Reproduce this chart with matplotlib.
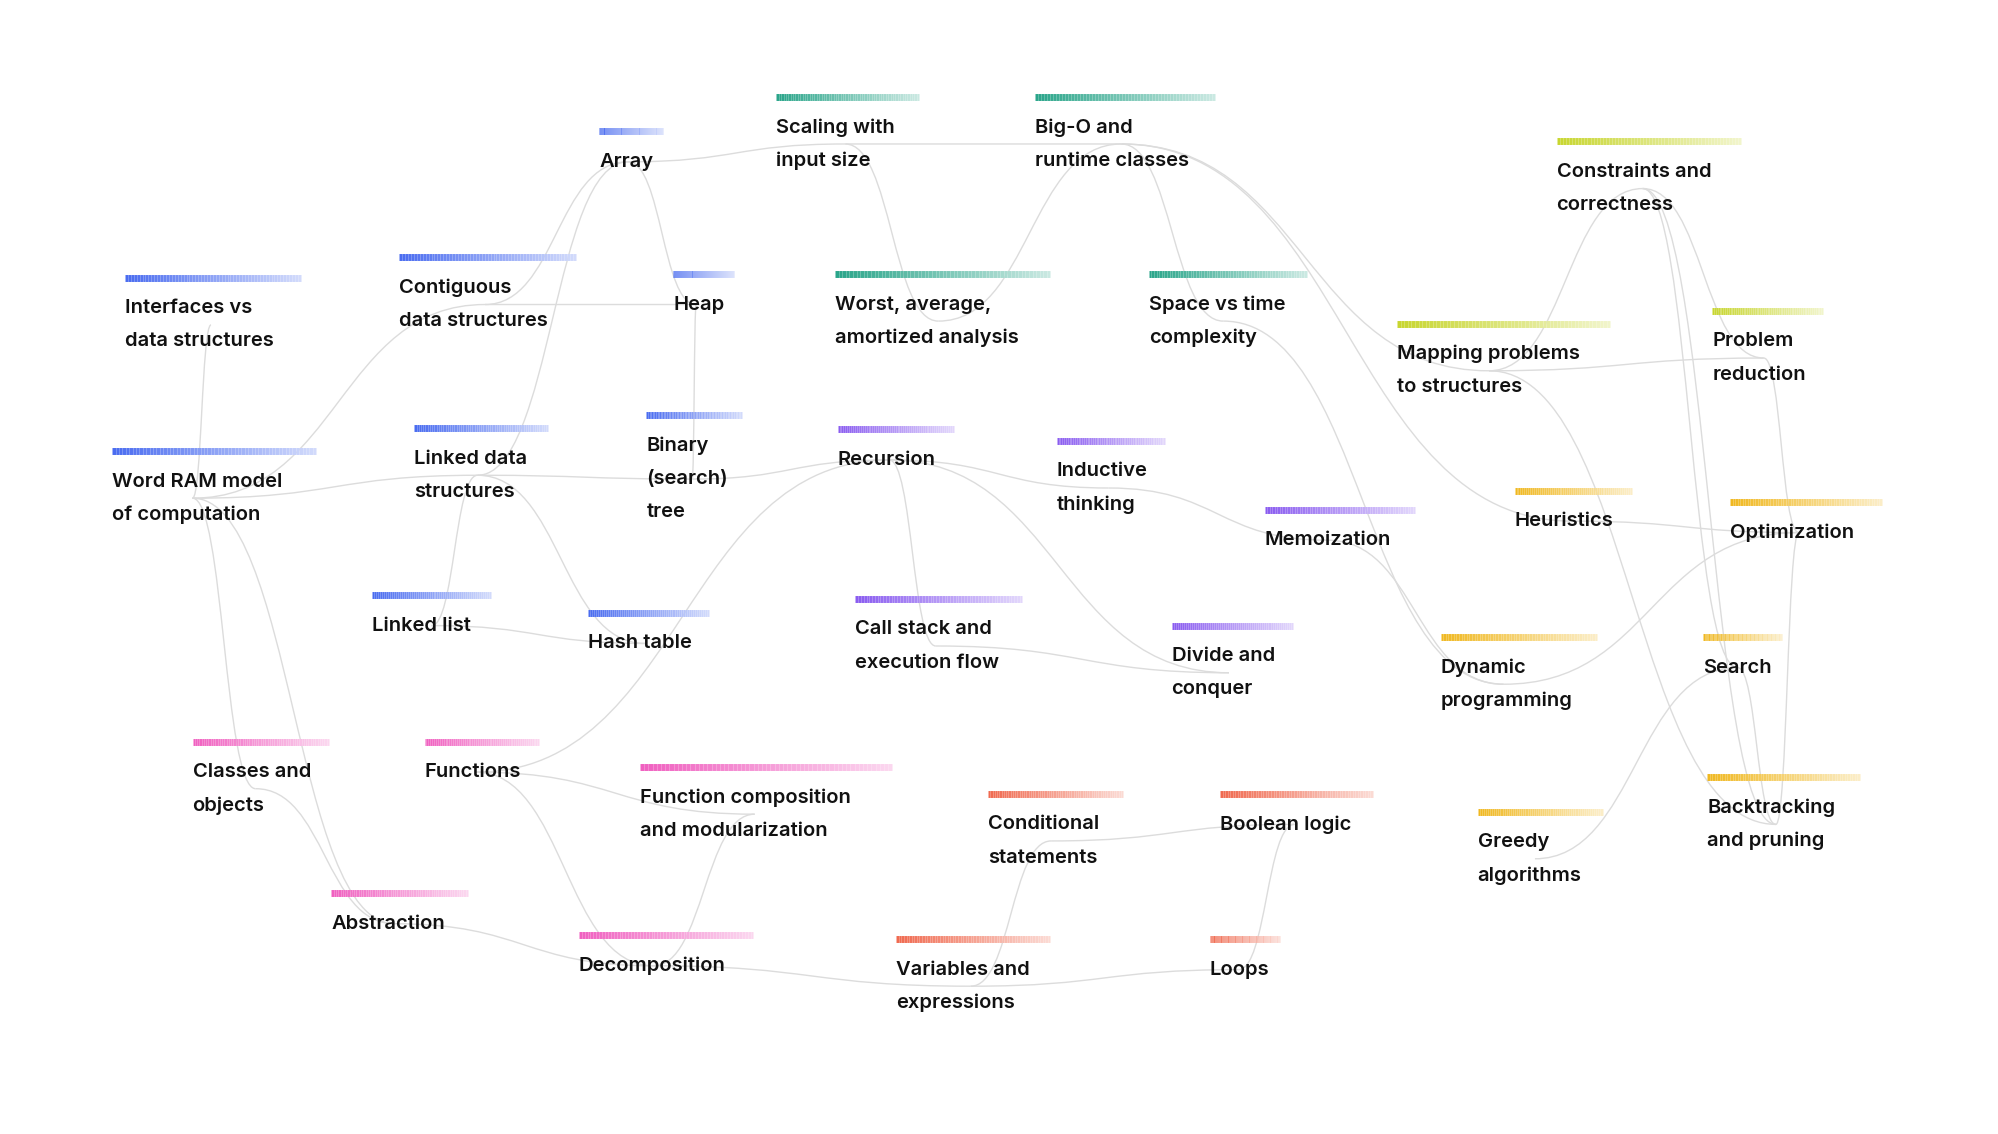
import matplotlib
matplotlib.use("Agg")
import matplotlib.pyplot as plt
import numpy as np
from matplotlib.path import Path
from matplotlib.patches import PathPatch
from matplotlib.collections import LineCollection
from matplotlib.colors import to_rgb

colors = {"blue": "#4a6cf0", "teal": "#2aa58a", "lime": "#c8d630",
          "purple": "#8a5cf0", "gold": "#f0b820", "pink": "#f060c0", "red": "#f06a50"}

# name, group, bar x0, bar x1, bar y, text lines (first line y), line spacing
node_names = ["Array", "Contiguous", "Heap", "Interfaces", "WordRAM", "LinkedDS", "BST", "LinkedList", "HashTable",
              "Scaling", "BigO", "Worst", "Space",
              "Constraints", "Mapping", "Reduction",
              "Recursion", "Inductive", "Memo", "CallStack", "Divide",
              "Heuristics", "Optimization", "DP", "Search", "Backtracking", "Greedy",
              "Classes", "Functions", "FuncComp", "Abstraction", "Decomposition",
              "Conditional", "Boolean", "Variables", "Loops"]
node_groups = ["blue"]*9 + ["teal"]*4 + ["lime"]*3 + ["purple"]*5 + ["gold"]*6 + ["pink"]*5 + ["red"]*4
node_x0 = [470, 313, 528, 98, 88, 325, 507, 292, 461,
           609, 812, 655, 901,
           1221, 1096, 1343,
           657, 829, 992, 671, 919,
           1188, 1357, 1130, 1336, 1339, 1159,
           151, 333, 502, 260, 454,
           775, 957, 703, 949]
node_x1 = [520, 452, 576, 236, 248, 430, 582, 385, 556,
           721, 953, 824, 1025,
           1366, 1263, 1430,
           748, 914, 1110, 802, 1014,
           1280, 1476, 1253, 1398, 1459, 1257,
           258, 423, 700, 367, 591,
           881, 1077, 824, 1004]
node_bary = [103, 202, 215, 218, 354, 336, 326, 467, 481,
             76, 76, 215, 215,
             111, 254, 244,
             337, 346, 400, 470, 491,
             385, 394, 500, 500, 610, 637,
             582, 582, 602, 701, 734,
             623, 623, 737, 737]
node_labels = ["Array", "Contiguous\ndata structures", "Heap", "Interfaces vs\ndata structures",
               "Word RAM model\nof computation", "Linked data\nstructures", "Binary\n(search)\ntree",
               "Linked list", "Hash table",
               "Scaling with\ninput size", "Big-O and\nruntime classes", "Worst, average,\namortized analysis",
               "Space vs time\ncomplexity",
               "Constraints and\ncorrectness", "Mapping problems\nto structures", "Problem\nreduction",
               "Recursion", "Inductive\nthinking", "Memoization", "Call stack and\nexecution flow",
               "Divide and\nconquer",
               "Heuristics", "Optimization", "Dynamic\nprogramming", "Search", "Backtracking\nand pruning",
               "Greedy\nalgorithms",
               "Classes and\nobjects", "Functions", "Function composition\nand modularization",
               "Abstraction", "Decomposition",
               "Conditional\nstatements", "Boolean logic", "Variables and\nexpressions", "Loops"]

edges = [("Array", "Contiguous"), ("Array", "Heap"), ("Array", "Scaling"), ("Array", "LinkedDS"),
         ("Scaling", "BigO"), ("Scaling", "Worst"), ("BigO", "Worst"), ("BigO", "Space"),
         ("BigO", "Mapping"), ("BigO", "Heuristics"),
         ("Interfaces", "WordRAM"), ("WordRAM", "Contiguous"), ("WordRAM", "LinkedDS"),
         ("WordRAM", "Classes"), ("WordRAM", "Abstraction"), ("Contiguous", "Heap"), ("Heap", "BST"),
         ("LinkedDS", "BST"), ("LinkedDS", "LinkedList"), ("LinkedDS", "HashTable"),
         ("LinkedList", "HashTable"), ("BST", "Recursion"), ("Recursion", "Inductive"),
         ("Recursion", "CallStack"), ("Recursion", "Divide"), ("Functions", "Recursion"),
         ("Inductive", "Memo"), ("Memo", "DP"), ("Space", "DP"), ("Constraints", "Mapping"),
         ("Constraints", "Reduction"), ("Constraints", "Search"), ("Constraints", "Backtracking"),
         ("Mapping", "Reduction"), ("Mapping", "Backtracking"), ("Reduction", "Optimization"),
         ("Heuristics", "Optimization"), ("Optimization", "DP"), ("Optimization", "Backtracking"),
         ("Search", "Greedy"), ("Search", "Backtracking"), ("Classes", "Abstraction"),
         ("Functions", "FuncComp"), ("Functions", "Decomposition"), ("Abstraction", "Decomposition"),
         ("Decomposition", "Variables"), ("Decomposition", "FuncComp"), ("Conditional", "Boolean"),
         ("Conditional", "Variables"), ("Variables", "Loops"), ("Boolean", "Loops"),
         ("CallStack", "Divide")]

W, H = 1568, 890
fig = plt.figure(figsize=(19.99, 11.34), dpi=100)
ax = fig.add_axes([0, 0, 1, 1])
ax.set_xlim(0, W)
ax.set_ylim(H, 0)
ax.axis("off")

LS = 26
idx = {n: i for i, n in enumerate(node_names)}

def center(i):
    nl = node_labels[i].count("\n") + 1
    cx = node_x0[i] + min(node_x1[i] - node_x0[i], 9 * max(len(s) for s in node_labels[i].split("\n"))) / 2
    cy = node_bary[i] + 24 + (nl - 1) * LS / 2
    return cx, cy

for a, b in edges:
    x1, y1 = center(idx[a]); x2, y2 = center(idx[b])
    mx = (x1 + x2) / 2
    path = Path([(x1, y1), (mx, y1), (mx, y2), (x2, y2)],
                [Path.MOVETO, Path.CURVE4, Path.CURVE4, Path.CURVE4])
    ax.add_patch(PathPatch(path, fc="none", ec="#dcdcdc", lw=1.0, zorder=1))

for i in range(len(node_names)):
    c = np.array(to_rgb(colors[node_groups[i]]))
    n = 60
    xs = np.linspace(node_x0[i], node_x1[i], n + 1)
    segs = [[(xs[k], node_bary[i]), (xs[k + 1], node_bary[i])] for k in range(n)]
    t = np.linspace(0, 1, n)[:, None]
    cols = c * (1 - 0.75 * t) + np.ones(3) * 0.75 * t
    ax.add_collection(LineCollection(segs, colors=cols, linewidths=5, zorder=3, capstyle="butt"))
    ax.text(node_x0[i], node_bary[i] + 24, node_labels[i], fontsize=14.5, fontweight="semibold",
            family=["Inter", "DejaVu Sans"], color="#111111", va="center", ha="left",
            linespacing=1.45, zorder=4) if False else None
    for k, line in enumerate(node_labels[i].split("\n")):
        ax.text(node_x0[i], node_bary[i] + 24 + k * LS, line, fontsize=14.5, fontweight="semibold",
                family=["Inter", "DejaVu Sans"], color="#111111", va="center", ha="left", zorder=4,
                bbox=dict(fc="white", ec="none", pad=1, alpha=0.0))

fig.savefig("out.png", dpi=100, facecolor="white")
